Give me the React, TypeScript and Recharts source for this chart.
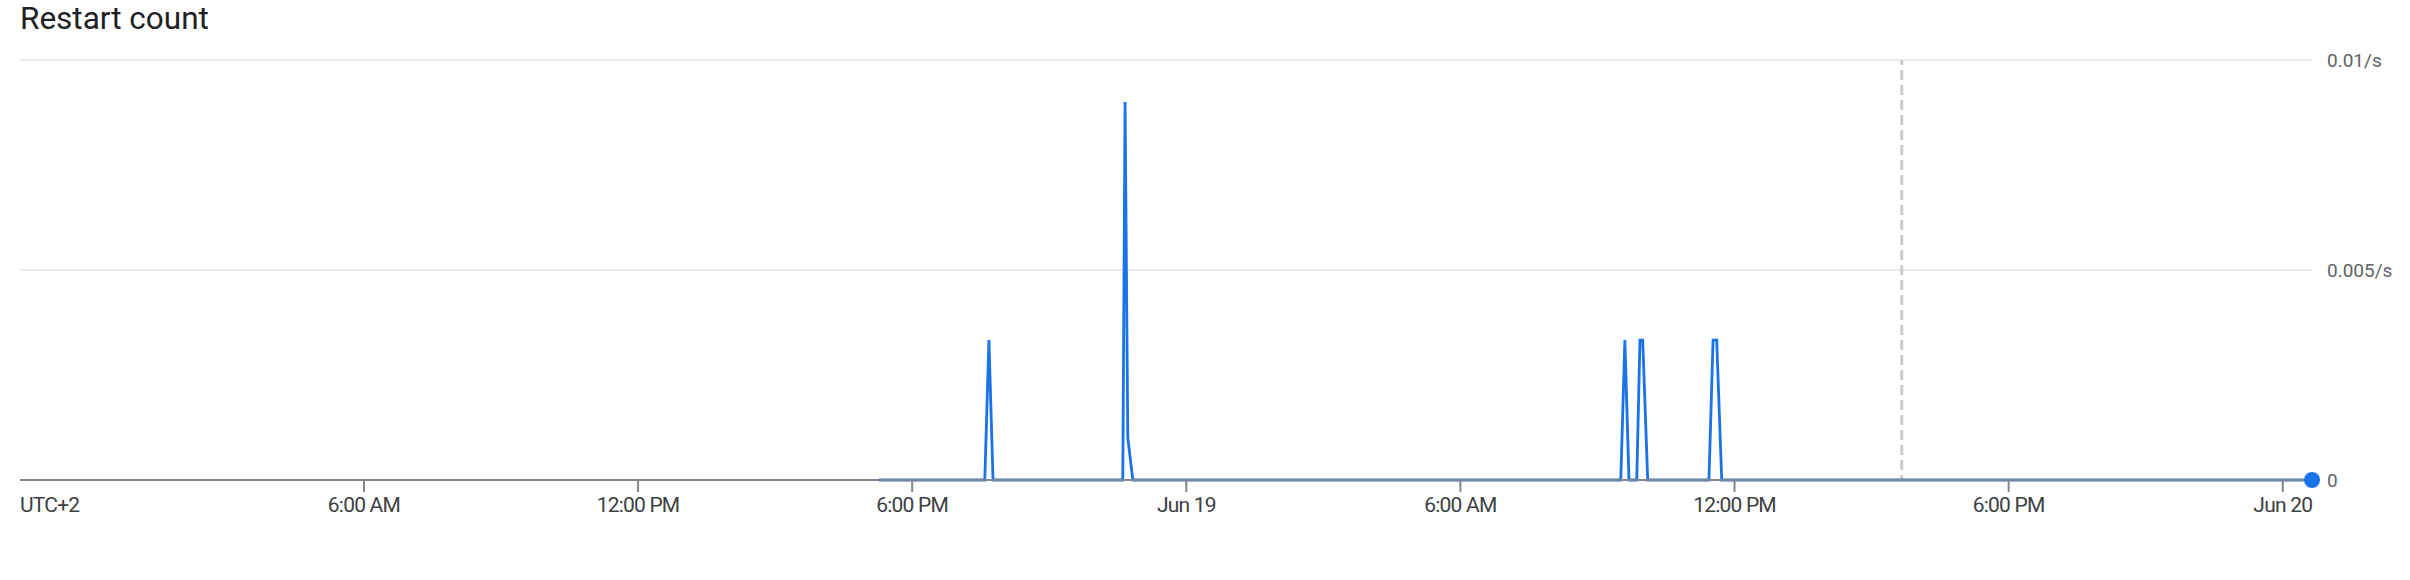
import React from "react";
import { LineChart, Line, XAxis, YAxis, CartesianGrid, ReferenceLine } from "recharts";

// time in hours since Jun 18 00:00 (UTC+2)
const times = [17.27, 19.59, 19.68, 19.77, 22.61, 22.66, 22.72, 22.83, 33.51, 33.6, 33.69, 33.86, 33.93, 33.99, 34.1, 35.44, 35.53, 35.61, 35.72, 48.64];
const restarts = [0, 0, 0.00333, 0, 0, 0.009, 0.001, 0, 0, 0.00333, 0, 0, 0.00333, 0.00333, 0, 0, 0.00333, 0.00333, 0, 0];

const xDomain: [number, number] = [-1.528, 48.64];
const xTicks = [-1.528, 6, 12, 18, 24, 30, 36, 42, 48];
const xTickLabels = ["UTC+2", "6:00 AM", "12:00 PM", "6:00 PM", "Jun 19", "6:00 AM", "12:00 PM", "6:00 PM", "Jun 20"];
const yTicks = [0, 0.005, 0.01];
const yTickLabels = ["0", "0.005/s", "0.01/s"];
const markerTime = 39.66;

const data = times.map((t, i) => ({ t, v: restarts[i] }));

const FONT = "Roboto, 'Noto Sans', sans-serif";
const BLUE = "#1a73e8";

const XTick = (props: any) => {
  const { x, y, index } = props;
  const label = xTickLabels[index];
  const textProps = { fill: "#3c4043", fontSize: 21, fontFamily: FONT, letterSpacing: -0.8 };
  if (index === 0) {
    return (
      <text x={x} y={y + 32} textAnchor="start" {...textProps}>
        {label}
      </text>
    );
  }
  return (
    <g>
      <line x1={x} x2={x} y1={y} y2={y + 12} stroke="#80868b" strokeWidth={2} />
      <text x={x} y={y + 32} textAnchor="middle" {...textProps}>
        {label}
      </text>
    </g>
  );
};

const YTick = (props: any) => {
  const { x, y, index } = props;
  return (
    <text x={x} y={y + 7} textAnchor="start" fill="#5f6368" fontSize={19} fontFamily={FONT}>
      {yTickLabels[index]}
    </text>
  );
};

const EndDot = (props: any) => {
  const { cx, cy, index } = props;
  if (index !== data.length - 1) return <g key={`d${index}`} />;
  return <circle key={`d${index}`} cx={cx} cy={cy} r={8} fill={BLUE} />;
};

export default function App() {
  return (
    <div style={{ position: "absolute", left: 0, top: 0, width: 2410, height: 580, background: "#fff" }}>
      <svg width={400} height={50} style={{ position: "absolute", left: 0, top: 0 }}>
        <text x={20} y={29} fontSize={31.5} fontFamily={FONT} fill="#202124">
          Restart count
        </text>
      </svg>
      <div style={{ position: "absolute", left: 0, top: 0 }}>
        <LineChart width={2410} height={580} data={data} margin={{ top: 60, left: 20, right: 0, bottom: 0 }}>
          <CartesianGrid horizontal vertical={false} stroke="#e8eaed" strokeWidth={2} />
          <XAxis
            dataKey="t"
            type="number"
            domain={xDomain}
            ticks={xTicks}
            interval={0}
            tick={<XTick />}
            tickLine={false}
            tickSize={0}
            tickMargin={0}
            axisLine={{ stroke: "#80868b", strokeWidth: 2 }}
            height={100}
          />
          <YAxis
            orientation="right"
            type="number"
            domain={[0, 0.01]}
            ticks={yTicks}
            interval={0}
            axisLine={false}
            tickLine={false}
            tickSize={0}
            tickMargin={15}
            tick={<YTick />}
            width={98}
          />
          <ReferenceLine
            x={markerTime}
            stroke="#cccccc"
            strokeWidth={3}
            strokeDasharray="10 5"
            {...({ strokeDashoffset: 5 } as any)}
          />
          <Line
            type="linear"
            dataKey="v"
            stroke={BLUE}
            strokeWidth={2.8}
            dot={EndDot}
            activeDot={false}
            isAnimationActive={false}
          />
        </LineChart>
      </div>
    </div>
  );
}
